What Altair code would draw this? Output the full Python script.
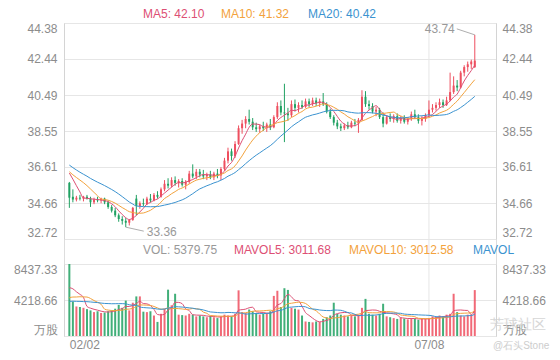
import altair as alt
import pandas as pd
import numpy as np

# ---------------- data ----------------
opens = [35.75, 35.00, 34.85, 34.95, 34.90, 35.00, 34.90, 34.70, 34.85, 34.80,
         34.90, 34.70, 34.45, 34.25, 34.00, 33.80, 33.70, 33.60, 33.75, 34.90,
         34.50, 34.65, 34.60, 34.90, 34.80, 35.10, 35.00, 35.40, 35.70, 35.60,
         35.90, 35.75, 35.85, 35.65, 35.80, 36.25, 36.10, 36.35, 36.20, 36.10,
         36.20, 36.05, 36.25, 36.15, 36.50, 36.95, 37.45, 37.20, 37.85, 38.70,
         38.95, 39.20, 39.05, 38.75, 38.65, 38.80, 38.70, 38.90, 38.75, 39.30,
         39.90, 39.55, 39.50, 39.40, 40.00, 39.80, 39.95, 39.85, 40.15, 40.00,
         40.20, 40.05, 40.15, 40.00, 39.60, 39.30, 39.00, 38.80, 38.70, 38.85,
         38.75, 39.00, 38.95, 39.15, 40.40, 40.00, 39.90, 39.60, 39.70, 39.30,
         38.95, 39.30, 39.20, 39.35, 39.10, 39.25, 39.05, 39.20, 39.45, 39.30,
         39.10, 39.20, 39.40, 39.70, 39.80, 39.95, 40.10, 39.95, 40.20, 40.65,
         41.00, 40.90, 41.70, 42.00, 42.15, 42.00]
highs = [35.80, 35.40, 35.05, 35.10, 35.05, 35.10, 35.00, 34.95, 35.00, 34.95,
         34.95, 34.80, 34.55, 34.40, 34.10, 33.95, 33.85, 33.80, 34.45, 35.10,
         34.75, 34.90, 35.00, 35.15, 35.20, 35.30, 35.50, 35.90, 36.00, 36.05,
         36.10, 35.95, 36.00, 35.90, 36.40, 36.75, 36.50, 36.50, 36.45, 36.30,
         36.40, 36.35, 36.50, 36.60, 37.10, 37.65, 37.60, 38.00, 38.85, 39.15,
         39.35, 39.70, 39.25, 39.00, 38.90, 39.05, 39.00, 39.20, 39.40, 40.10,
         40.20, 41.10, 39.80, 40.20, 40.25, 40.10, 40.20, 40.30, 40.30, 40.35,
         40.35, 40.30, 40.60, 40.10, 39.75, 39.40, 39.15, 38.95, 38.95, 39.05,
         39.10, 39.20, 39.25, 40.75, 40.70, 40.20, 40.05, 39.85, 39.80, 39.55,
         39.40, 39.50, 39.45, 39.50, 39.35, 39.40, 39.30, 39.60, 39.70, 39.45,
         39.35, 39.50, 40.20, 40.00, 40.10, 40.30, 40.25, 40.40, 41.70, 41.50,
         41.30, 41.80, 42.10, 42.30, 42.40, 43.74]
lows = [34.40, 34.70, 34.75, 34.80, 34.75, 34.85, 34.45, 34.60, 34.70, 34.65,
        34.60, 34.35, 34.15, 33.90, 33.65, 33.50, 33.36, 33.45, 33.70, 34.00,
        34.35, 34.50, 34.55, 34.70, 34.75, 34.90, 34.95, 35.30, 35.45, 35.50,
        35.60, 35.50, 35.55, 35.40, 35.70, 36.00, 35.95, 36.05, 35.95, 35.90,
        35.95, 35.90, 36.00, 35.90, 36.40, 36.80, 36.95, 37.10, 37.80, 38.40,
        38.70, 38.90, 38.60, 38.50, 38.45, 38.55, 38.50, 38.60, 38.70, 39.20,
        39.40, 37.95, 39.10, 39.30, 39.60, 39.55, 39.75, 39.80, 39.85, 39.90,
        39.90, 39.85, 39.90, 39.50, 39.20, 38.85, 38.65, 38.55, 38.60, 38.65,
        38.70, 38.80, 38.45, 39.10, 39.85, 39.70, 39.50, 39.35, 39.20, 38.75,
        38.90, 39.05, 39.00, 39.00, 38.95, 38.95, 38.90, 39.10, 39.20, 38.95,
        38.85, 39.05, 39.30, 39.55, 39.65, 39.80, 39.80, 39.90, 40.15, 40.55,
        40.70, 40.85, 41.50, 41.75, 41.90, 41.95]
closes = [34.95, 34.85, 34.95, 34.90, 35.00, 34.90, 34.70, 34.85, 34.80, 34.90,
          34.70, 34.45, 34.25, 34.00, 33.80, 33.70, 33.60, 33.75, 34.40, 34.50,
          34.65, 34.60, 34.90, 34.80, 35.10, 35.00, 35.40, 35.70, 35.60, 35.90,
          35.75, 35.85, 35.65, 35.80, 36.25, 36.10, 36.35, 36.20, 36.10, 36.20,
          36.05, 36.25, 36.15, 36.50, 36.95, 37.45, 37.20, 37.85, 38.70, 38.95,
          39.20, 39.05, 38.75, 38.65, 38.80, 38.70, 38.90, 38.75, 39.30, 39.90,
          39.55, 39.50, 39.40, 40.00, 39.80, 39.95, 39.85, 40.15, 40.00, 40.20,
          40.05, 40.15, 40.00, 39.60, 39.30, 39.00, 38.80, 38.70, 38.85, 38.75,
          39.00, 38.95, 39.15, 40.40, 40.00, 39.90, 39.60, 39.70, 39.30, 38.95,
          39.30, 39.20, 39.35, 39.10, 39.25, 39.05, 39.20, 39.45, 39.30, 39.10,
          39.20, 39.40, 39.70, 39.80, 39.95, 40.10, 39.95, 40.20, 40.65, 41.00,
          40.90, 41.70, 42.00, 42.15, 42.30, 42.35]
volumes = [8437.33, 4050, 3460, 3400, 3300, 3150, 3000, 2800, 2900, 2700,
           2750, 2900, 3000, 3200, 3650, 3300, 4150, 3000, 3900, 4640,
           4640, 2850, 2800, 2900, 2400, 1650, 2600, 3200, 5430, 3600,
           4950, 2500, 2450, 2400, 2600, 2500, 2300, 2400, 2300, 2200,
           2350, 2200, 2100, 2300, 2500, 2400, 2300, 2600, 5350, 2800,
           2700, 3100, 2900, 2700, 2500, 2600, 2700, 2900, 4700, 5300,
           3400, 5600, 5400, 3300, 3200, 3100, 2400, 1700, 1650, 1600,
           1700, 1650, 2000, 2200, 2400, 3900, 2600, 2500, 2400, 2300,
           2450, 2300, 2500, 3300, 4350, 2600, 2500, 2400, 2600, 3780,
           2300, 2200, 2100, 2000, 2150, 2050, 1950, 2100, 2000, 1900,
           2050, 2000, 2100, 2300, 2200, 2400, 2300, 2500, 2600, 4950,
           2800, 2400, 2300, 2500, 2480, 5379.75]
# closes / volumes of the sessions just before the window (feed the moving averages)
prior_closes = [37.6, 37.5, 37.3, 37.2, 37.0, 37.1, 36.9, 36.8, 36.7, 36.6,
                36.5, 36.4, 36.3, 36.4, 36.5, 36.5, 36.7, 36.6, 36.65]
prior_volumes = [3400, 3900, 3500, 3800, 3300, 3700, 3600, 3500, 3900, 3600,
                 3200, 3400, 3100, 3500, 3300, 4700, 5200, 4900, 5063]

tick_idx = [0, 102]
tick_labels = ["02/02", "07/08"]
price_ticks = [32.72, 34.66, 36.61, 38.55, 40.49, 42.44, 44.38]
vol_ticks = [0, 4218.66, 8437.33]
vol_unit = "万股"
ma_legend = ["MA5: 42.10", "MA10: 41.32", "MA20: 40.42"]
vol_legend = ["VOL: 5379.75", "MAVOL5: 3011.68", "MAVOL10: 3012.58", "MAVOL"]
watermark = ["芳球社区", "@石头Stone"]

# ---------------- derived table ----------------
n = len(closes)
df = pd.DataFrame({"i": np.arange(n), "open": opens, "high": highs,
                   "low": lows, "close": closes, "volume": volumes})
df["dir"] = np.where(df["close"] >= df["open"], "up", "down")
k = len(prior_closes)
ac = pd.Series(prior_closes + closes)
av = pd.Series(prior_volumes + volumes)
for w in (5, 10, 20):
    df[f"ma{w}"] = ac.rolling(w).mean().values[k:]
    df[f"mv{w}"] = av.rolling(w).mean().values[k:]

lo = df.loc[[df["low"].idxmin()], ["i", "low"]].assign(t=lambda d: d["low"].map("{:.2f}".format))
hi = df.loc[[df["high"].idxmax()], ["i", "high"]].assign(t=lambda d: d["high"].map("{:.2f}".format))
ticks_df = pd.DataFrame({"i": tick_idx, "label": tick_labels})

# ---------------- style ----------------
RED, GREEN = "#ee4f5f", "#20a162"
C5, C10, C20 = "#dd4f74", "#f3a23c", "#3b93d0"
LAB = "#8c8c8c"
GRID = "#e6e6e6"
W, H = 432, 313
PH = 216           # price panel height
VT, VB = 241, 313  # volume panel top / bottom

label_expr = " : ".join(f"datum.value == {v} ? '{l}'" for v, l in zip(tick_idx, tick_labels)) + " : ''"
xs = alt.Scale(domain=[-0.1, n - 1 + 4.6], nice=False, zero=False)
X = alt.X("i:Q", scale=xs, title=None,
          axis=alt.Axis(values=tick_idx, labelExpr=label_expr, grid=False, domain=False,
                        ticks=False, labelFlush=False, labelColor=LAB, labelFontSize=12,
                        labelPadding=3,
                        labelAlign={"condition": {"test": f"datum.value == {tick_idx[0]}", "value": "left"},
                                    "value": "center"}))
ps = alt.Scale(domain=[price_ticks[0], price_ticks[-1]], range=[PH, 0], nice=False, zero=False)
vs = alt.Scale(domain=[vol_ticks[0], vol_ticks[-1]], range=[VB, VT], nice=False, zero=True)
col = alt.Color("dir:N", scale=alt.Scale(domain=["up", "down"], range=[RED, GREEN]), legend=None)


def axis(orient, values, grid, expr=None, fmt=".2f"):
    kw = dict(orient=orient, values=values, grid=grid, gridColor=GRID, domain=True,
              domainColor="#d4d4d4", ticks=False, labelColor=LAB, labelFontSize=12,
              labelPadding=7 if orient == "left" else 6, labelFlush=True, title=None)
    if expr:
        kw["labelExpr"] = expr
    else:
        kw["format"] = fmt
    return alt.Axis(**kw)


vexpr = f"datum.value == 0 ? '{vol_unit}' : format(datum.value, '.2f')"
base = alt.Chart(df)

vgrid = alt.Chart(ticks_df[ticks_df["i"] > 0]).mark_rule(color=GRID).encode(
    x=X, y=alt.value(0), y2=alt.value(H))
wicks = base.mark_rule(strokeWidth=1).encode(
    x=X, y=alt.Y("low:Q", scale=ps, axis=axis("left", price_ticks, True)), y2="high:Q", color=col)
bodies = base.mark_bar(size=2).encode(
    x=X, y=alt.Y("open:Q", scale=ps, axis=axis("right", price_ticks, False)), y2="close:Q", color=col)


def ma_line(field, color, sc):
    return base.mark_line(color=color, strokeWidth=1, interpolate="monotone").encode(
        x=X, y=alt.Y(f"{field}:Q", scale=sc, axis=None))


vbars = base.mark_bar(size=2, opacity=0.85).encode(
    x=X, y=alt.Y("volume:Q", scale=vs, axis=axis("left", vol_ticks, True, vexpr)), color=col)
vaxis_r = base.mark_line(color=C5, strokeWidth=1, interpolate="monotone").encode(
    x=X, y=alt.Y("mv5:Q", scale=vs, axis=axis("right", vol_ticks, False, vexpr)))

lo_rule = alt.Chart(lo).mark_rule(color="#999999", strokeWidth=0.8, x2Offset=18, y2Offset=4).encode(
    x=X, x2="i:Q", y=alt.Y("low:Q", scale=ps, axis=None), y2="low:Q")
lo_text = alt.Chart(lo).mark_text(align="left", baseline="middle", dx=21, dy=5,
                                  color="#999999", fontSize=12).encode(
    x=X, y=alt.Y("low:Q", scale=ps, axis=None), text="t:N")
hi_rule = alt.Chart(hi).mark_rule(color="#999999", strokeWidth=0.8, x2Offset=-18, y2Offset=-6).encode(
    x=X, x2="i:Q", y=alt.Y("high:Q", scale=ps, axis=None), y2="high:Q")
hi_text = alt.Chart(hi).mark_text(align="right", baseline="middle", dx=-20, dy=-6,
                                  color="#999999", fontSize=12).encode(
    x=X, y=alt.Y("high:Q", scale=ps, axis=None), text="t:N")


def label(text, color, x, y, size=12, align="left", opacity=1.0):
    return alt.Chart(pd.DataFrame({"t": [text]})).mark_text(
        align=align, baseline="middle", color=color, fontSize=size, opacity=opacity).encode(
        text="t:N", x=alt.value(x), y=alt.value(y))


legends = [
    label(ma_legend[0], C5, 79, -9), label(ma_legend[1], C10, 157, -9),
    label(ma_legend[2], C20, 244, -9),
    label(vol_legend[0], "#999999", 79, 227), label(vol_legend[1], C5, 170, 227),
    label(vol_legend[2], C10, 285, 227), label(vol_legend[3], C20, 409, 227),
    label(watermark[0], "#d2d2d2", 426, 302, 14, opacity=0.9),
    label(watermark[1], "#c8c8c8", 429, 323, 10, opacity=0.9),
]

chart = alt.layer(
    vgrid, wicks, bodies,
    ma_line("ma5", C5, ps), ma_line("ma10", C10, ps), ma_line("ma20", C20, ps),
    vbars, vaxis_r, ma_line("mv10", C10, vs), ma_line("mv20", C20, vs),
    lo_rule, lo_text, hi_rule, hi_text, *legends,
).resolve_scale(y="independent").properties(
    width=W, height=H,
    autosize=alt.AutoSizeParams(type="none"),
    padding={"left": 56, "top": 15, "right": 56, "bottom": 16},
).configure_view(stroke=None).configure(font="Liberation Sans")

chart.save("out.html", embed_options={"renderer": "svg", "actions": False})
